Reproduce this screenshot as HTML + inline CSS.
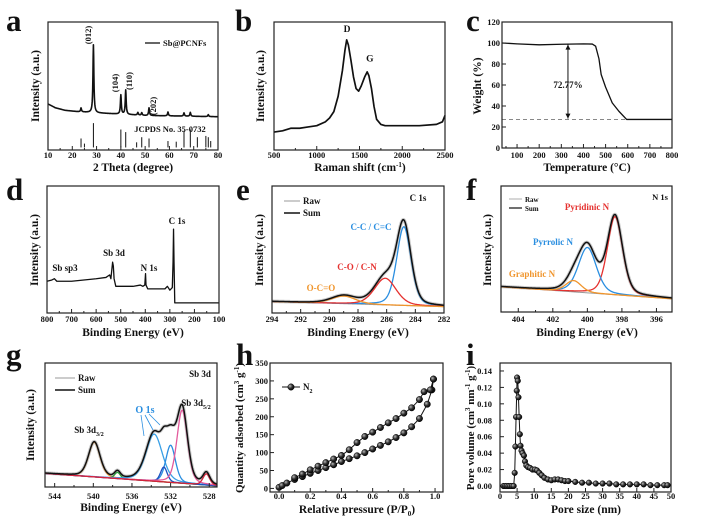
<!DOCTYPE html>
<html><head><meta charset="utf-8"><title>Sb@PCNFs characterization</title>
<style>
html,body{margin:0;padding:0;background:#fff;}
svg{display:block;font-family:"Liberation Serif",serif;font-weight:bold;}
</style></head>
<body>
<svg id="fig" width="705" height="527" viewBox="0 0 705 527">
<defs>
<radialGradient id="ball" cx="0.35" cy="0.35" r="0.7"><stop offset="0" stop-color="#bbb"/><stop offset="0.5" stop-color="#333"/><stop offset="1" stop-color="#000"/></radialGradient>
</defs>
<rect width="705" height="527" fill="#fff"/>
</svg>
<script>
// ---- data ----
const xrdBase = [[10,36],[13,33],[17,31],[22,30],[30,29],[50,27],[80,26]];
const xrdPeakPos = [23.6,28.7,40.0,42.0,47.0,48.6,51.6,59.4,66.0,68.6,76.0];
const xrdPeakH   = [3,53,15,19,2,2,6,3,2.5,3,1.5];
const stickPos = [23.6,25.0,28.7,40.0,42.0,46.5,48.6,51.6,59.4,62.8,66.0,68.6,71.5,75.0,76.0,77.0];
const stickH   = [7,3,19,14,12,4,8,7,5,4.5,13,14,8,9,8,5];
const ramanX = [500,600,700,800,900,1000,1100,1150,1200,1250,1300,1330,1350,1370,1400,1430,1460,1490,1520,1560,1590,1610,1640,1670,1700,1750,1800,2000,2200,2400,2470,2500];
const ramanY = [14,15,17,17,18,19,22,25,30,42,62,78,86,82,70,57,48,46,50,57,61,58,48,34,24,20,19,19,19,20,22,27];
const tgaT = [32,100,200,300,400,440,455,470,480,500,530,560,595,800];
const tgaW = [100,99.2,98.3,98.8,99.2,99,97,85,70,58,43,35,27.2,27.2];
const surveyE = [800,780,770,760,700,650,600,560,545,540,533,530,527,520,500,450,420,410,402,399,397,390,340,320,310,300,290,287,285,283,280,100];
const surveyI = [25,26,27,25,25,26,27,28,30,27,40,37,27,21,21,21,22,21,22,31,22,19,19,19,21,18,20,40,66,40,8,8];
const c1sPos = [284.8,286.1,289.0];
const c1sH = [62,21,6];
const c1sW = [0.5,0.75,0.85];
const c1sBase = [9,5];
const n1sPos = [398.4,400.0,400.8];
const n1sH = [62,36,9];
const n1sW = [0.44,0.52,0.45];
const n1sBase = [20,10.5];
const sbPos = [539.9,537.5,533.7,532.0,532.7,530.8,528.3];
const sbH = [28,5,38,30,12,59,9];
const sbW = [0.6,0.3,0.85,0.5,0.35,0.55,0.35];
const sbBase = [11,1];
const adsP = [0,0.02,0.05,0.1,0.15,0.2,0.25,0.3,0.35,0.4,0.45,0.5,0.55,0.6,0.65,0.7,0.75,0.8,0.85,0.9,0.95,0.98,0.99];
const adsQ = [3,8,15,25,33,42,50,58,66,75,83,91,100,110,120,130,142,155,172,195,235,275,305];
const desP = [0.99,0.97,0.93,0.9,0.85,0.8,0.75,0.7,0.65,0.6,0.55,0.5,0.45,0.4,0.35,0.3,0.25,0.2,0.15,0.1];
const desQ = [305,275,270,248,225,210,195,183,170,157,145,128,108,92,82,72,62,52,40,30];
const poreD = [1,1.5,2,2.5,3,3.5,4,4.3,4.5,4.7,4.9,5.0,5.2,5.4,5.6,5.8,6,6.3,6.6,7,7.3,7.7,8.2,8.8,9.5,10.2,10.8,11.5,12.2,13,14,15,16,17,18,19,20,22,24,26,28,30,32,34,36,38,40,42,44,46,48,49];
const poreV = [0,0,0,0,0,0,0,0.016,0.048,0.084,0.116,0.132,0.128,0.108,0.084,0.063,0.049,0.043,0.040,0.037,0.030,0.025,0.023,0.022,0.020,0.020,0.019,0.016,0.013,0.010,0.008,0.007,0.008,0.008,0.007,0.006,0.006,0.005,0.004,0.004,0.003,0.003,0.003,0.002,0.002,0.002,0.002,0.002,0.001,0.001,0.001,0.001];

// ---- helpers ----
const NS='http://www.w3.org/2000/svg';
const svg=document.getElementById('fig');
function el(tag,attrs,parent){const e=document.createElementNS(NS,tag);for(const k in attrs)e.setAttribute(k,attrs[k]);(parent||svg).appendChild(e);return e;}
function lin(d0,d1,p0,p1){return v=>p0+(v-d0)/(d1-d0)*(p1-p0);}
function panel(name,box,xd,yd){
  const g=el('g',{});
  
  
  return {g:g,box:box,x:lin(xd[0],xd[1],box[0],box[2]),y:lin(yd[0],yd[1],box[3],box[1])};
}
function frame(P){
  const r=el('rect',{x:P.box[0],y:P.box[1],width:P.box[2]-P.box[0],height:P.box[3]-P.box[1],fill:'none',stroke:'#222','stroke-width':1.2},P.g);
  
  
}
function txt(P,x,y,s,opt){
  opt=opt||{};
  const t=el('text',{x:x,y:y,'font-size':opt.fs||9,'text-anchor':opt.anchor||'middle',fill:opt.fill||'#111'},P.g);
  if(opt.rot)t.setAttribute('transform','rotate(-90 '+x+' '+y+')');
  t.innerHTML=s;
  
  
  return t;
}
function xTicks(P,vals,labels,minor,ly){
  vals.forEach((v,i)=>{
    const X=P.x(v);
    const l=el('line',{x1:X,x2:X,y1:P.box[3],y2:P.box[3]-4,stroke:'#222','stroke-width':1},P.g);
    
    
    txt(P,X,ly,labels[i],{fs:8.5,name:'x-tick-label'});
  });
  (minor||[]).forEach(v=>{
    const X=P.x(v);
    const l=el('line',{x1:X,x2:X,y1:P.box[3],y2:P.box[3]-2,stroke:'#222','stroke-width':1},P.g);
    
    
  });
}
function yTicks(P,vals,labels,lx){
  vals.forEach((v,i)=>{
    const Y=P.y(v);
    const l=el('line',{x1:P.box[0],x2:P.box[0]+4,y1:Y,y2:Y,stroke:'#222','stroke-width':1},P.g);
    
    
    txt(P,lx,Y+3,labels[i],{fs:8.5,anchor:'end',name:'y-tick-label'});
  });
}
function path(P,xs,ys,stroke,w,name,dash){
  let d='';
  xs.forEach((v,i)=>{d+=(i?'L':'M')+P.x(v).toFixed(2)+' '+P.y(ys[i]).toFixed(2);});
  const p=el('path',{d:d,fill:'none',stroke:stroke,'stroke-width':w,'stroke-linejoin':'round'},P.g);
  if(dash)p.setAttribute('stroke-dasharray',dash);
  
  
  return p;
}
function interp(arr,x){
  for(let i=0;i<arr.length-1;i++){if(x>=arr[i][0]&&x<=arr[i+1][0]){const t=(x-arr[i][0])/(arr[i+1][0]-arr[i][0]);return arr[i][1]+t*(arr[i+1][1]-arr[i][1]);}}
  return arr[arr.length-1][1];
}
function pv(x,c,h,s){const u=(x-c)/s;return h*(0.7*Math.exp(-u*u/2)+0.3/(1+(u/1.177)*(u/1.177)));}
function sample(a,b,n){const r=[];for(let i=0;i<=n;i++)r.push(a+(b-a)*i/n);return r;}
function letter(x,y,s){
  const t=el('text',{x:x,y:y,'font-size':31,'font-weight':'bold',fill:'#111'});
  t.textContent=s;
  
  
}
function legLine(P,x1,x2,y,col,w,label,fs){
  const l=el('line',{x1:x1,x2:x2,y1:y,y2:y,stroke:col,'stroke-width':w},P.g);
  
  
  txt(P,x2+3,y+3,label,{fs:fs||9,anchor:'start',name:'legend-label'});
}
function ball(P,x,y,r){
  const c=el('circle',{cx:P.x(x),cy:P.y(y),r:r,fill:'url(#ball)',stroke:'#000','stroke-width':0.5},P.g);
  
  
}

// ---- panel a: XRD ----
letter(6,31,'a');
const A=panel('panel-a-xrd',[48,22,218,150],[10,80],[0,100]);
const ax=sample(10,80,700);
const ay=ax.map(x=>{let v=interp(xrdBase,x);xrdPeakPos.forEach((c,i)=>{const u=(x-c)/0.22;v+=xrdPeakH[i]/(1+u*u);});return v;});
path(A,ax,ay,'#111',1.6,'xrd-pattern');
stickPos.forEach((p,i)=>{
  const l=el('line',{x1:A.x(p),x2:A.x(p),y1:A.y(2),y2:A.y(2+stickH[i]),stroke:'#111','stroke-width':1},A.g);
  
  
});
frame(A);
xTicks(A,[10,20,30,40,50,60,70,80],['10','20','30','40','50','60','70','80'],[15,25,35,45,55,65,75],158);
txt(A,133,171,'2 Theta (degree)',{fs:11.5,name:'x-axis-title'});
txt(A,39,86,'Intensity (a.u.)',{fs:11.5,rot:1,name:'y-axis-title'});
txt(A,91,35,'(012)',{fs:8.5,rot:1,name:'peak-label'});
txt(A,118,83,'(104)',{fs:8.5,rot:1,name:'peak-label'});
txt(A,132,81,'(110)',{fs:8.5,rot:1,name:'peak-label'});
txt(A,156,106,'(202)',{fs:8.5,rot:1,name:'peak-label'});
legLine(A,145,160,43,'#333',1.5,'Sb@PCNFs',8.5);
txt(A,170,132,'JCPDS No. 35-0732',{fs:8.5,name:'reference-label'});

// ---- panel b: Raman ----
letter(235,31,'b');
const B=panel('panel-b-raman',[274,22,445,150],[500,2500],[0,100]);
path(B,ramanX,ramanY,'#111',1.7,'raman-spectrum');
frame(B);
xTicks(B,[500,1000,1500,2000,2500],['500','1000','1500','2000','2500'],[750,1250,1750,2250],158);
txt(B,360,171,'Raman shift (cm<tspan dy="-4" font-size="7">-1</tspan><tspan dy="4">)</tspan>',{fs:11.5,name:'x-axis-title'});
txt(B,264,86,'Intensity (a.u.)',{fs:11.5,rot:1,name:'y-axis-title'});
txt(B,B.x(1355),B.y(92),'D',{fs:9.5,name:'peak-label'});
txt(B,B.x(1620),B.y(69),'G',{fs:9.5,name:'peak-label'});

// ---- panel c: TGA ----
letter(466,31,'c');
const C=panel('panel-c-tga',[502,22,672,148],[32,800],[0,120]);
path(C,[32,600],[27.2,27.2],'#888',1,'residual-dashed-line','4,3');
path(C,tgaT,tgaW,'#111',1.3,'tga-curve');
path(C,[330,330],[98.5,28],'#111',1,'weight-loss-arrow');
const ar1=el('path',{d:'M'+C.x(330)+' '+C.y(98.5)+' l-2.5 5 l5 0 z M'+C.x(330)+' '+C.y(28)+' l-2.5 -5 l5 0 z',fill:'#111'},C.g);


frame(C);
xTicks(C,[100,200,300,400,500,600,700,800],['100','200','300','400','500','600','700','800'],[50,150,250,350,450,550,650,750],158);
yTicks(C,[0,20,40,60,80,100,120],['0','20','40','60','80','100','120'],500);
txt(C,587,171,'Temperature (°C)',{fs:11.5,name:'x-axis-title'});
txt(C,481,86,'Weight (%)',{fs:11.5,rot:1,name:'y-axis-title'});
txt(C,C.x(330),C.y(60)+3,'72.77%',{fs:9,name:'weight-loss-label'});

// ---- panel d: survey ----
letter(6,200,'d');
const D=panel('panel-d-survey',[47,186,219,313],[800,100],[0,100]);
path(D,surveyE,surveyI,'#111',1.3,'survey-spectrum');
frame(D);
xTicks(D,[800,700,600,500,400,300,200,100],['800','700','600','500','400','300','200','100'],[750,650,550,450,350,250,150],322);
txt(D,133,336,'Binding Energy (eV)',{fs:11.5,name:'x-axis-title'});
txt(D,38,250,'Intensity (a.u.)',{fs:11.5,rot:1,name:'y-axis-title'});
txt(D,177,224,'C 1s',{fs:9,name:'peak-label'});
txt(D,114,256,'Sb 3d',{fs:9,name:'peak-label'});
txt(D,149,271,'N 1s',{fs:9,name:'peak-label'});
txt(D,65,271,'Sb sp3',{fs:9,name:'peak-label'});

// XPS fit helper
function xps(P,xa,xb,pos,h,w,base,cols,names){
  const xs=sample(xa,xb,300);
  const bl=x=>base[0]+(base[1]-base[0])*(x-xa)/(xb-xa);
  const sum=xs.map(x=>{let v=bl(x);pos.forEach((c,i)=>{v+=pv(x,c,h[i],w[i]);});return v;});
  path(P,xs,sum,'#ccc',3.5,'raw-data');
  path(P,xs,xs.map(bl),'#999',1,'background');
  pos.forEach((c,i)=>{path(P,xs,xs.map(x=>bl(x)+pv(x,c,h[i],w[i])),cols[i],1.3,names[i]);});
  path(P,xs,sum,'#111',1.5,'sum-fit');
}

// ---- panel e: C 1s ----
letter(236,200,'e');
const E=panel('panel-e-c1s',[272,186,444,313],[294,282],[0,100]);
xps(E,294,282,c1sPos,c1sH,c1sW,c1sBase,['#2a8ee0','#e5312f','#f0952c'],['cc-component','co-component','oco-component']);
frame(E);
xTicks(E,[294,292,290,288,286,284,282],['294','292','290','288','286','284','282'],[293,291,289,287,285,283],322);
txt(E,358,336,'Binding Energy (eV)',{fs:11.5,name:'x-axis-title'});
txt(E,263,250,'Intensity (a.u.)',{fs:11.5,rot:1,name:'y-axis-title'});
legLine(E,284,300,201,'#bbb',1.5,'Raw',9);
legLine(E,284,300,213,'#111',1.5,'Sum',9);
txt(E,418,201,'C 1s',{fs:9,name:'spectrum-title'});
txt(E,371,230,'C-C / C=C',{fs:9,fill:'#2a8ee0',name:'cc-label'});
txt(E,357,270,'C-O / C-N',{fs:9,fill:'#e5312f',name:'co-label'});
txt(E,321,291,'O-C=O',{fs:9,fill:'#f0952c',name:'oco-label'});

// ---- panel f: N 1s ----
letter(466,200,'f');
const F=panel('panel-f-n1s',[501,186,672,312],[405,395.1],[0,100]);
xps(F,405,395.1,n1sPos,n1sH,n1sW,n1sBase,['#e5312f','#2a8ee0','#f0952c'],['pyridinic-component','pyrrolic-component','graphitic-component']);
frame(F);
xTicks(F,[404,402,400,398,396],['404','402','400','398','396'],[403,401,399,397],322);
txt(F,587,336,'Binding Energy (eV)',{fs:11.5,name:'x-axis-title'});
txt(F,491,250,'Intensity (a.u.)',{fs:11.5,rot:1,name:'y-axis-title'});
legLine(F,509,522,199,'#bbb',1.2,'Raw',7);
legLine(F,509,522,208,'#111',1.2,'Sum',7);
txt(F,660,200,'N 1s',{fs:8.5,name:'spectrum-title'});
txt(F,587,210,'Pyridinic N',{fs:9,fill:'#e5312f',name:'pyridinic-label'});
txt(F,553,245,'Pyrrolic N',{fs:9,fill:'#2a8ee0',name:'pyrrolic-label'});
txt(F,532,277,'Graphitic N',{fs:9,fill:'#f0952c',name:'graphitic-label'});

// ---- panel g: Sb 3d ----
letter(6,365,'g');
const G=panel('panel-g-sb3d',[45,363,217,487],[545,527.2],[0,100]);
xps(G,545,527.2,sbPos,sbH,sbW,sbBase,['#f0952c','#2a9a3a','#3aa0e6','#2a8ee0','#1e4fc0','#e35a9c','#d4233a'],['sb3d32-component','satellite-component','o1s-component-1','o1s-component-2','o1s-component-3','sb3d52-component','sb2o3-component']);
frame(G);
xTicks(G,[544,540,536,532,528],['544','540','536','532','528'],[542,538,534,530],499);
txt(G,131,511,'Binding Energy (eV)',{fs:11.5,name:'x-axis-title'});
txt(G,34,425,'Intensity (a.u.)',{fs:11.5,rot:1,name:'y-axis-title'});
legLine(G,55,75,378,'#bbb',1.5,'Raw',9);
legLine(G,55,75,390,'#111',1.5,'Sum',9);
txt(G,200,377,'Sb 3d',{fs:9,name:'spectrum-title'});
txt(G,145,413,'O 1s',{fs:10,fill:'#2a8ee0',name:'o1s-label'});
const oa=el('path',{d:'M141 415 L144 436 M145 415 L153 430 M149 414 L160 425',stroke:'#2a8ee0','stroke-width':0.8,fill:'none'},G.g);


txt(G,89,433,'Sb 3d<tspan dy="3" font-size="6">3/2</tspan>',{fs:9,name:'sb3d32-label'});
txt(G,196,406,'Sb 3d<tspan dy="3" font-size="6">5/2</tspan>',{fs:9,name:'sb3d52-label'});

// ---- panel h: isotherm ----
letter(236,365,'h');
const H=panel('panel-h-isotherm',[270,363,443,492],[-0.058,1.051],[-10,350]);
frame(H);
path(H,adsP,adsQ,'#111',1,'adsorption-branch');
path(H,desP,desQ,'#111',1,'desorption-branch');
adsP.forEach((p,i)=>ball(H,p,adsQ[i],3.2));
desP.forEach((p,i)=>ball(H,p,desQ[i],3.2));
xTicks(H,[0,0.2,0.4,0.6,0.8,1.0],['0.0','0.2','0.4','0.6','0.8','1.0'],[0.1,0.3,0.5,0.7,0.9],499);
yTicks(H,[0,50,100,150,200,250,300,350],['0','50','100','150','200','250','300','350'],268);
txt(H,357,513,'Relative pressure (P/P<tspan dy="3" font-size="7">0</tspan><tspan dy="-3">)</tspan>',{fs:11.5,name:'x-axis-title'});
txt(H,243,428,'Quantity adsorbed (cm<tspan dy="-4" font-size="7">3</tspan><tspan dy="4"> g</tspan><tspan dy="-4" font-size="7">-1</tspan><tspan dy="4">)</tspan>',{fs:11,rot:1,name:'y-axis-title'});
const hl=el('line',{x1:282,x2:300,y1:387,y2:387,stroke:'#111','stroke-width':1},H.g);


const hb=el('circle',{cx:291,cy:387,r:3.2,fill:'url(#ball)',stroke:'#000','stroke-width':0.5},H.g);


txt(H,303,390,'N<tspan dy="3" font-size="6">2</tspan>',{fs:9,anchor:'start',name:'legend-label'});

// ---- panel i: pore size ----
letter(466,365,'i');
const I=panel('panel-i-pore',[500,363,671,492],[0,50],[-0.0073,0.1497]);
frame(I);
path(I,poreD,poreV,'#111',1,'pore-distribution');
poreD.forEach((d,i)=>ball(I,d,poreV[i],2.8));
xTicks(I,[0,5,10,15,20,25,30,35,40,45,50],['0','5','10','15','20','25','30','35','40','45','50'],[],499);
yTicks(I,[0,0.02,0.04,0.06,0.08,0.10,0.12,0.14],['0.00','0.02','0.04','0.06','0.08','0.10','0.12','0.14'],492);
txt(I,586,513,'Pore size (nm)',{fs:11.5,name:'x-axis-title'});
txt(I,474,428,'Pore volume (cm<tspan dy="-4" font-size="7">3</tspan><tspan dy="4"> nm</tspan><tspan dy="-4" font-size="7">-1</tspan><tspan dy="4"> g</tspan><tspan dy="-4" font-size="7">-1</tspan><tspan dy="4">)</tspan>',{fs:11,rot:1,name:'y-axis-title'});
</script>
</body></html>
